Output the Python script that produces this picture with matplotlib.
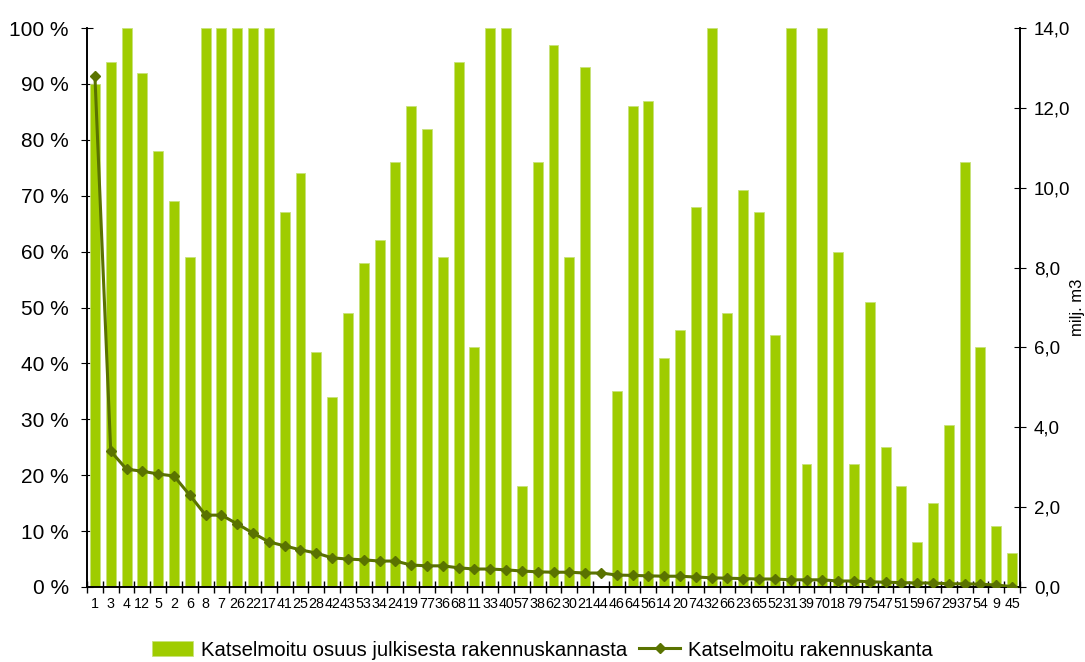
import matplotlib.pyplot as plt
import numpy as np
from matplotlib.ticker import FuncFormatter

plt.rcParams['font.family'] = ['Liberation Sans', 'DejaVu Sans']

# alueet / kunnat
labels = ["1", "3", "4", "12", "5", "2", "6", "8", "7", "26", "22", "17", "41", "25", "28",
          "42", "43", "53", "34", "24", "19", "77", "36", "68", "11", "33", "40", "57", "38",
          "62", "30", "21", "44", "46", "64", "56", "14", "20", "74", "32", "66", "23", "65",
          "52", "31", "39", "70", "18", "79", "75", "47", "51", "59", "67", "29", "37", "54",
          "9", "45"]
# katselmoitu osuus (%)
osuus = [90, 94, 100, 92, 78, 69, 59, 100, 100, 100, 100, 100, 67, 74, 42,
         34, 49, 58, 62, 76, 86, 82, 59, 94, 43, 100, 100, 18, 76,
         97, 59, 93, 0, 35, 86, 87, 41, 46, 68, 100, 49, 71, 67,
         45, 100, 22, 100, 60, 22, 51, 25, 18, 8, 15, 29, 76, 43,
         11, 6]
# katselmoitu rakennuskanta (milj. m3)
kanta = [12.8, 3.4, 2.95, 2.9, 2.83, 2.78, 2.3, 1.8, 1.8, 1.58, 1.35, 1.13, 1.03, 0.93, 0.85,
         0.73, 0.70, 0.68, 0.65, 0.65, 0.55, 0.53, 0.53, 0.48, 0.45, 0.45, 0.43, 0.40, 0.38,
         0.37, 0.37, 0.35, 0.35, 0.30, 0.29, 0.28, 0.27, 0.27, 0.25, 0.23, 0.22, 0.21, 0.20,
         0.20, 0.18, 0.18, 0.18, 0.15, 0.15, 0.13, 0.12, 0.11, 0.10, 0.10, 0.08, 0.08, 0.07,
         0.05, 0.01]

x = np.arange(len(labels))

fig = plt.figure(figsize=(10.85, 6.62), dpi=100)
ax = fig.add_axes([87/1085, 1-587/662, 933/1085, 559/662])
ax2 = ax.twinx()

bars = ax.bar(x, osuus, width=0.63, color='#9FCC00', edgecolor='#C8E27A', linewidth=0.6,
              label='Katselmoitu osuus julkisesta rakennuskannasta', zorder=2)
line, = ax2.plot(x, kanta, color='#5A7300', lw=2.2, marker='D', ms=5,
                 label='Katselmoitu rakennuskanta', zorder=3)

ax.set_xlim(-0.5, len(labels)-0.5)
ax.set_ylim(0, 100)
ax2.set_ylim(0, 14)
ax.set_yticks(np.arange(0, 101, 10))
ax.yaxis.set_major_formatter(FuncFormatter(lambda v, p: f"{int(v)} %"))
ax2.set_yticks(np.arange(0, 14.1, 2))
ax2.yaxis.set_major_formatter(FuncFormatter(lambda v, p: f"{v:.1f}".replace('.', ',')))
ax2.set_ylabel('milj. m3', fontsize=12, labelpad=0)

ax.set_xticks(x)
ax.set_xticklabels(labels, fontsize=10.3)
ax.set_xticks(np.arange(-0.5, len(labels), 1), minor=True)
ax.tick_params(axis='x', which='major', length=0, pad=7)
ax.tick_params(axis='x', which='minor', direction='inout', length=8, width=1)
ax.tick_params(axis='y', direction='inout', length=8, labelsize=15, pad=9)
ax2.tick_params(axis='y', direction='inout', length=8, labelsize=13.5, pad=6)

for a in (ax, ax2):
    a.spines['top'].set_visible(False)
    for s in ('left', 'right', 'bottom'):
        a.spines[s].set_color('black')
        a.spines[s].set_linewidth(1.2)

fig.legend([bars, line], [bars.get_label(), line.get_label()], loc='center',
           bbox_to_anchor=(0.5, 1-650/662), ncol=2, frameon=False, fontsize=14.6,
           handlelength=2.0, columnspacing=0.6, handletextpad=0.4)

fig.savefig('out.png', dpi=100)
